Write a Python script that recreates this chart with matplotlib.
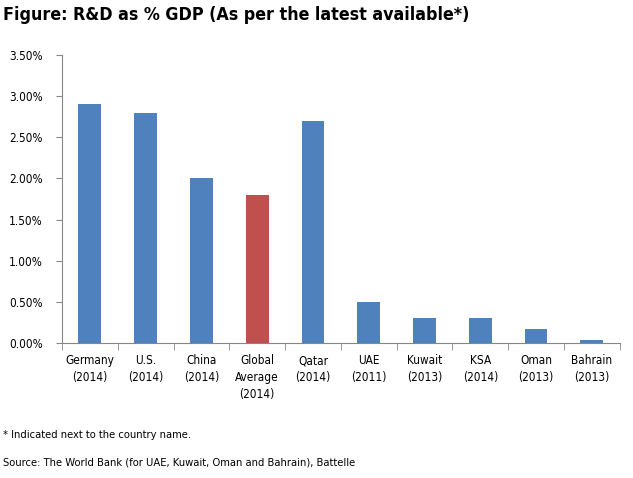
import matplotlib
matplotlib.use('Agg')
import matplotlib.pyplot as plt
from matplotlib.ticker import FuncFormatter, FixedLocator

countries = ['Germany\n(2014)', 'U.S.\n(2014)', 'China\n(2014)', 'Global\nAverage\n(2014)',
             'Qatar\n(2014)', 'UAE\n(2011)', 'Kuwait\n(2013)', 'KSA\n(2014)',
             'Oman\n(2013)', 'Bahrain\n(2013)']
rd_pct = [2.90, 2.80, 2.00, 1.80, 2.70, 0.50, 0.30, 0.30, 0.17, 0.04]
highlight = [False, False, False, True, False, False, False, False, False, False]

BLUE = '#4F81BD'
RED = '#C0504D'
AXIS = '#868686'

plt.rcParams['font.family'] = 'DejaVu Sans'
plt.rcParams['font.stretch'] = 'condensed'

fig = plt.figure(figsize=(6.33, 4.78), dpi=100)
ax = fig.add_axes([0.098, 0.2824, 0.881, 0.6026])

x = range(len(countries))
colors = [RED if h else BLUE for h in highlight]
ax.bar(x, rd_pct, width=0.41, color=colors)

ax.set_xlim(-0.5, len(countries) - 0.5)
ax.set_ylim(0, 3.5)
ax.set_yticks([0, 0.5, 1.0, 1.5, 2.0, 2.5, 3.0, 3.5])
ax.yaxis.set_major_formatter(FuncFormatter(lambda v, p: f'{v:.2f}%'))

ax.set_xticks(list(x))
ax.set_xticklabels(countries, fontsize=8.5, linespacing=1.4)
ax.tick_params(axis='x', which='major', length=0, pad=8)
ax.xaxis.set_minor_locator(FixedLocator([i - 0.5 for i in range(len(countries) + 1)]))
ax.tick_params(axis='x', which='minor', length=5, color=AXIS, direction='out')
ax.tick_params(axis='y', length=4, color=AXIS, labelsize=8.5, pad=10)

for side in ['top', 'right']:
    ax.spines[side].set_visible(False)
for side in ['left', 'bottom']:
    ax.spines[side].set_color(AXIS)

fig.text(0.005, 0.988, 'Figure: R&D as % GDP (As per the latest available*)',
         fontsize=12.8, fontweight='bold', va='top', ha='left')
fig.text(0.005, 0.09, '* Indicated next to the country name.', fontsize=8, va='center')
fig.text(0.005, 0.033, 'Source: The World Bank (for UAE, Kuwait, Oman and Bahrain), Battelle',
         fontsize=8, va='center')

fig.savefig('out.png', dpi=100)
